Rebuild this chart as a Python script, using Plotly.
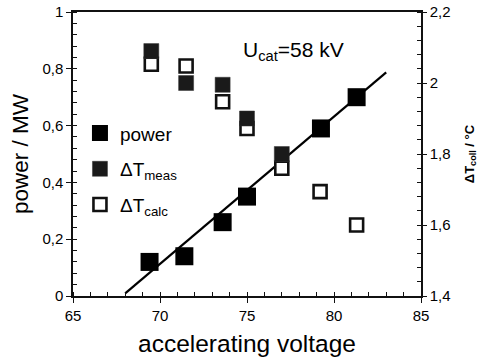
import numpy as np
import plotly.graph_objects as go

# data
power_x = [69.4, 71.4, 73.6, 75.0, 79.25, 81.3]
power_y = [0.12, 0.14, 0.26, 0.35, 0.59, 0.70]

meas_x = [69.5, 71.5, 73.6, 75.0, 77.0]
meas_y = [2.09, 2.0, 1.995, 1.90, 1.80]

calc_x = [69.5, 71.5, 73.6, 75.0, 77.0, 79.2, 81.3]
calc_y = [2.053, 2.048, 1.947, 1.872, 1.76, 1.694, 1.60]

fit_range = [68.0, 83.0]

font = "Liberation Sans, Arial, sans-serif"

coef = np.polyfit(power_x, power_y, 1)
fx = np.array(fit_range)
fy = np.polyval(coef, fx) + 0.012

fig = go.Figure()
fig.add_trace(go.Scatter(x=fx, y=fy, mode="lines", line=dict(color="black", width=2.2),
                         showlegend=False, hoverinfo="skip"))
fig.add_trace(go.Scatter(x=calc_x, y=calc_y, yaxis="y2", mode="markers", name="ΔT<sub>calc</sub>",
                         legendrank=3, legendgroup="c",
                         marker=dict(symbol="square", size=13, color="white",
                                     line=dict(color="#111", width=2.6))))
fig.add_trace(go.Scatter(x=meas_x, y=meas_y, yaxis="y2", mode="markers", name="ΔT<sub>meas</sub>",
                         legendrank=2, legendgroup="m",
                         marker=dict(symbol="square", size=15, color="#1a1a1a",
                                     line=dict(color="#333", width=0.5))))
fig.add_trace(go.Scatter(x=power_x, y=power_y, mode="markers", name="power",
                         legendrank=1, legendgroup="p",
                         marker=dict(symbol="square", size=18, color="black")))

fig.add_annotation(text="U<sub>cat</sub>=58 kV", x=0.635, y=0.915, xref="paper", yref="paper",
                   showarrow=False, font=dict(size=21, color="black", family=font))

fig.update_layout(
    width=482, height=362,
    margin=dict(l=73, r=61, t=12, b=66),
    paper_bgcolor="white", plot_bgcolor="white",
    separators=",.",
    font=dict(family=font, color="black", size=14),
    legend=dict(x=0.02, y=0.64, xanchor="left", yanchor="top", bgcolor="rgba(0,0,0,0)",
                font=dict(size=19, family=font), tracegroupgap=8, itemsizing="trace"),
    xaxis=dict(range=[65, 85], tickvals=[65, 70, 75, 80, 85], showgrid=False, zeroline=False,
               automargin=False,
               showline=True, linecolor="#111", linewidth=1.5, mirror=True,
               ticks="outside", ticklen=5, tickcolor="#111",
               minor=dict(dtick=1, ticks="inside", ticklen=4, tickcolor="#111"),
               tickfont=dict(size=15),
               title=dict(text="accelerating voltage", font=dict(size=24.5), standoff=12)),
    yaxis=dict(range=[0, 1], tickvals=[0, 0.2, 0.4, 0.6, 0.8, 1], showgrid=False, zeroline=False,
               automargin=False,
               showline=True, linecolor="#111", linewidth=1.5,
               ticks="outside", ticklen=5, tickcolor="#111",
               minor=dict(dtick=0.04, ticks="inside", ticklen=4, tickcolor="#111"),
               tickfont=dict(size=15),
               title=dict(text="power / MW", font=dict(size=22.5), standoff=8)),
    yaxis2=dict(range=[1.4, 2.2], tickvals=[1.4, 1.6, 1.8, 2.0, 2.2], overlaying="y", side="right",
                automargin=False,
                showgrid=False, zeroline=False, showline=True, linecolor="#111", linewidth=1.5,
                ticks="outside", ticklen=4, tickcolor="#111",
                minor=dict(dtick=0.04, ticks="inside", ticklen=4, tickcolor="#111"),
                tickfont=dict(size=15),
                title=dict(text="<b>ΔT<sub>coll</sub> / °C</b>", font=dict(size=13), standoff=15)),
)

fig.write_html("out.html")
